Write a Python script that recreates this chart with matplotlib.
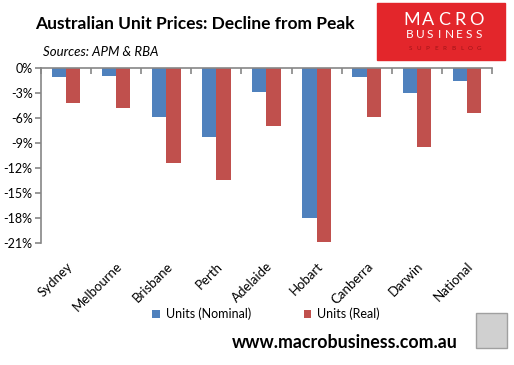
import matplotlib.pyplot as plt
from matplotlib.patches import Rectangle
import numpy as np

plt.rcParams["font.family"] = ["Lato", "DejaVu Sans"]

cities = ["Sydney", "Melbourne", "Brisbane", "Perth", "Adelaide",
          "Hobart", "Canberra", "Darwin", "National"]
nominal = [-1.0, -0.9, -5.8, -8.3, -2.9, -18.0, -1.1, -3.0, -1.5]
real = [-4.2, -4.8, -11.4, -13.4, -6.9, -20.9, -5.8, -9.5, -5.4]
y_ticks = [0, -3, -6, -9, -12, -15, -18, -21]

BLUE = "#4F81BD"
RED = "#C0504D"
GREY = "#868686"

fig = plt.figure(figsize=(5.14, 3.65), dpi=100)
ax = fig.add_axes([41 / 514, 1 - 243.3 / 365, 451 / 514, 175 / 365])

x = np.arange(len(cities))
w = 0.286
ax.bar(x - w / 2, nominal, w, color=BLUE, label="Units (Nominal)")
ax.bar(x + w / 2, real, w, color=RED, label="Units (Real)")

ax.set_xlim(-0.5, len(cities) - 0.5)
ax.set_ylim(-21, 0)
ax.set_yticks(y_ticks)
ax.set_yticklabels([f"{t}%" for t in y_ticks], fontsize=9)

for side in ["right", "bottom"]:
    ax.spines[side].set_visible(False)
for side in ["left", "top"]:
    ax.spines[side].set_color(GREY)
    ax.spines[side].set_linewidth(1.2)

ax.set_xticks(x)
ax.set_xticklabels(cities, rotation=45, ha="right", rotation_mode="anchor", fontsize=9.5)
ax.tick_params(axis="x", which="major", length=0, pad=12)
ax.set_xticks(np.arange(len(cities) + 1) - 0.5, minor=True)
ax.tick_params(axis="x", which="minor", top=True, bottom=False, direction="in",
               length=4, color=GREY, width=1.2)
ax.tick_params(axis="y", direction="out", length=4, color=GREY, width=1.2, pad=2)

fig.legend(loc="center", bbox_to_anchor=(266 / 514, 1 - 314 / 365), ncol=2,
           frameon=False, fontsize=9, handlelength=0.6, handleheight=0.6,
           columnspacing=4.2, handletextpad=0.5)

fig.text(35 / 514, 1 - 24 / 365, "Australian Unit Prices: Decline from Peak",
         fontsize=12.5, fontweight="bold", va="center")
fig.text(43 / 514, 1 - 52 / 365, "Sources: APM & RBA", fontsize=9.5,
         style="italic", va="center")

# logo box
fig.patches.append(Rectangle((377 / 514, 1 - 60 / 365), 128 / 514, 57 / 365,
                             transform=fig.transFigure, color="#E3262B", zorder=1))


def spaced(word, x0, x1, y, size, color):
    step = (x1 - x0) / (len(word) - 1)
    for i, ch in enumerate(word):
        fig.text((x0 + i * step) / 514, 1 - y / 365, ch, fontsize=size, color=color,
                 ha="center", va="center", zorder=2)


spaced("MACRO", 412, 476, 20, 13, "white")
spaced("BUSINESS", 410, 479, 35, 8.5, "white")
spaced("SUPERBLOG", 410, 479, 48, 4.5, "#A01418")

fig.text(345 / 514, 1 - 343 / 365, "www.macrobusiness.com.au", fontsize=12.8,
         fontweight="bold", ha="center", va="center")

# wolf picture placeholder
fig.patches.append(Rectangle((476 / 514, 1 - 348 / 365), 31 / 514, 35 / 365,
                             transform=fig.transFigure, facecolor="#D0D0D0",
                             edgecolor="#A0A0A0", linewidth=1))

fig.savefig("out.png", dpi=100)
